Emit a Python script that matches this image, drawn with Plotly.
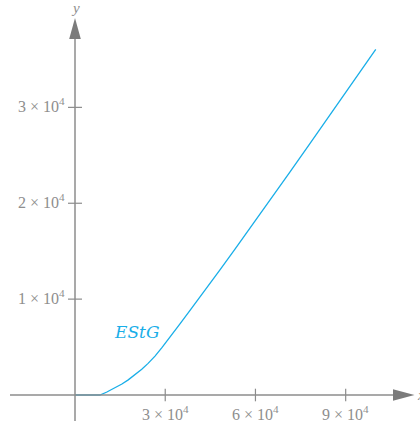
import plotly.graph_objects as go

# ---- data ----
income = [0, 8300, 10600, 13300, 15600, 17700, 20000, 22200, 24300, 26600, 28900,
          31600, 34900, 38800, 41600, 44900, 48200, 53200, 58200, 64800, 71500,
          78100, 84800, 91400, 100000]
tax = [0, 0, 310, 720, 1150, 1580, 2100, 2690, 3300, 4060, 4940,
       6020, 7410, 9050, 10210, 11630, 13060, 15220, 17400, 20320, 23260,
       26220, 29200, 32200, 36050]
series_name = "EStG"

x_ticks = [30000, 60000, 90000]
x_tick_labels = ["3 × 10<sup>4</sup>", "6 × 10<sup>4</sup>", "9 × 10<sup>4</sup>"]
y_ticks = [10000, 20000, 30000]
y_tick_labels = ["1 × 10<sup>4</sup>", "2 × 10<sup>4</sup>", "3 × 10<sup>4</sup>"]

# ---- styling ----
CURVE = "#19aee8"
AXIS = "#8c8c8c"
ARROW = "#7b7b7b"
TEXT = "#8e8e8e"
TICKFONT = dict(family="Liberation Serif", size=16, color=TEXT)

fig = go.Figure()

fig.add_trace(go.Scatter(x=income, y=tax, mode="lines",
                         line=dict(color=CURVE, width=1.3),
                         hoverinfo="skip", showlegend=False))

# tick marks (crossing the axis lines)
fig.add_trace(go.Scatter(x=x_ticks, y=[0] * len(x_ticks), mode="markers",
                         marker=dict(symbol="line-ns", size=9,
                                     line=dict(color=AXIS, width=1.2)),
                         hoverinfo="skip", showlegend=False))
fig.add_trace(go.Scatter(x=[0] * len(y_ticks), y=y_ticks, mode="markers",
                         marker=dict(symbol="line-ew", size=10,
                                     line=dict(color=AXIS, width=1.2)),
                         hoverinfo="skip", showlegend=False))

shapes = [
    # x axis line
    dict(type="line", xref="x", yref="y", xsizemode="pixel", xanchor=0,
         x0=-65, x1=319, y0=0, y1=0, line=dict(color=AXIS, width=1.5)),
    # y axis line
    dict(type="line", xref="x", yref="y", ysizemode="pixel", yanchor=0,
         y0=-26, y1=357, x0=0, x1=0, line=dict(color=AXIS, width=1.5)),
    # x arrow head
    dict(type="path", xref="x", yref="y", xsizemode="pixel", ysizemode="pixel",
         xanchor=0, yanchor=0, path="M 318,-5.8 L 339.5,0 L 318,5.8 Z",
         fillcolor=ARROW, line=dict(width=0)),
    # y arrow head
    dict(type="path", xref="x", yref="y", xsizemode="pixel", ysizemode="pixel",
         xanchor=0, yanchor=0, path="M -5.8,356 L 0,377 L 5.8,356 Z",
         fillcolor=ARROW, line=dict(width=0)),
]

annotations = []
for v, t in zip(x_ticks, x_tick_labels):
    annotations.append(dict(x=v, y=0, xref="x", yref="y", text=t, showarrow=False,
                            xanchor="center", yanchor="top", yshift=-6,
                            font=TICKFONT))
for v, t in zip(y_ticks, y_tick_labels):
    annotations.append(dict(x=0, y=v, xref="x", yref="y", text=t, showarrow=False,
                            xanchor="right", yanchor="middle", xshift=-8, yshift=2,
                            font=TICKFONT))
# axis names
annotations.append(dict(x=0, y=1, xref="x", yref="paper", text="<i>y</i>",
                        showarrow=False, xanchor="center", yanchor="top", yshift=2,
                        font=dict(family="Liberation Serif", size=15, color=TEXT)))
annotations.append(dict(x=1, y=0, xref="paper", yref="y", text="<i>x</i>",
                        showarrow=False, xanchor="left", yanchor="middle", xshift=-5,
                        font=dict(family="Liberation Serif", size=15, color=TEXT)))
# curve label
annotations.append(dict(x=20300, y=6620, xref="x", yref="y",
                        text="<i>" + series_name + "</i>", showarrow=False,
                        xanchor="center", yanchor="middle",
                        font=dict(family="DejaVu Serif", size=17, color=CURVE)))

fig.update_layout(
    width=420, height=422, autosize=False,
    margin=dict(l=0, r=0, t=0, b=0, pad=0),
    paper_bgcolor="white", plot_bgcolor="white",
    xaxis=dict(range=[-24938, 114713], visible=False, showgrid=False,
               zeroline=False, fixedrange=True),
    yaxis=dict(range=[-2816, 41199], visible=False, showgrid=False,
               zeroline=False, fixedrange=True),
    shapes=shapes, annotations=annotations, showlegend=False,
)

fig.write_html("out.html", config={"displayModeBar": False},
               post_script="document.body.style.margin='0';document.body.style.overflow='hidden';")
